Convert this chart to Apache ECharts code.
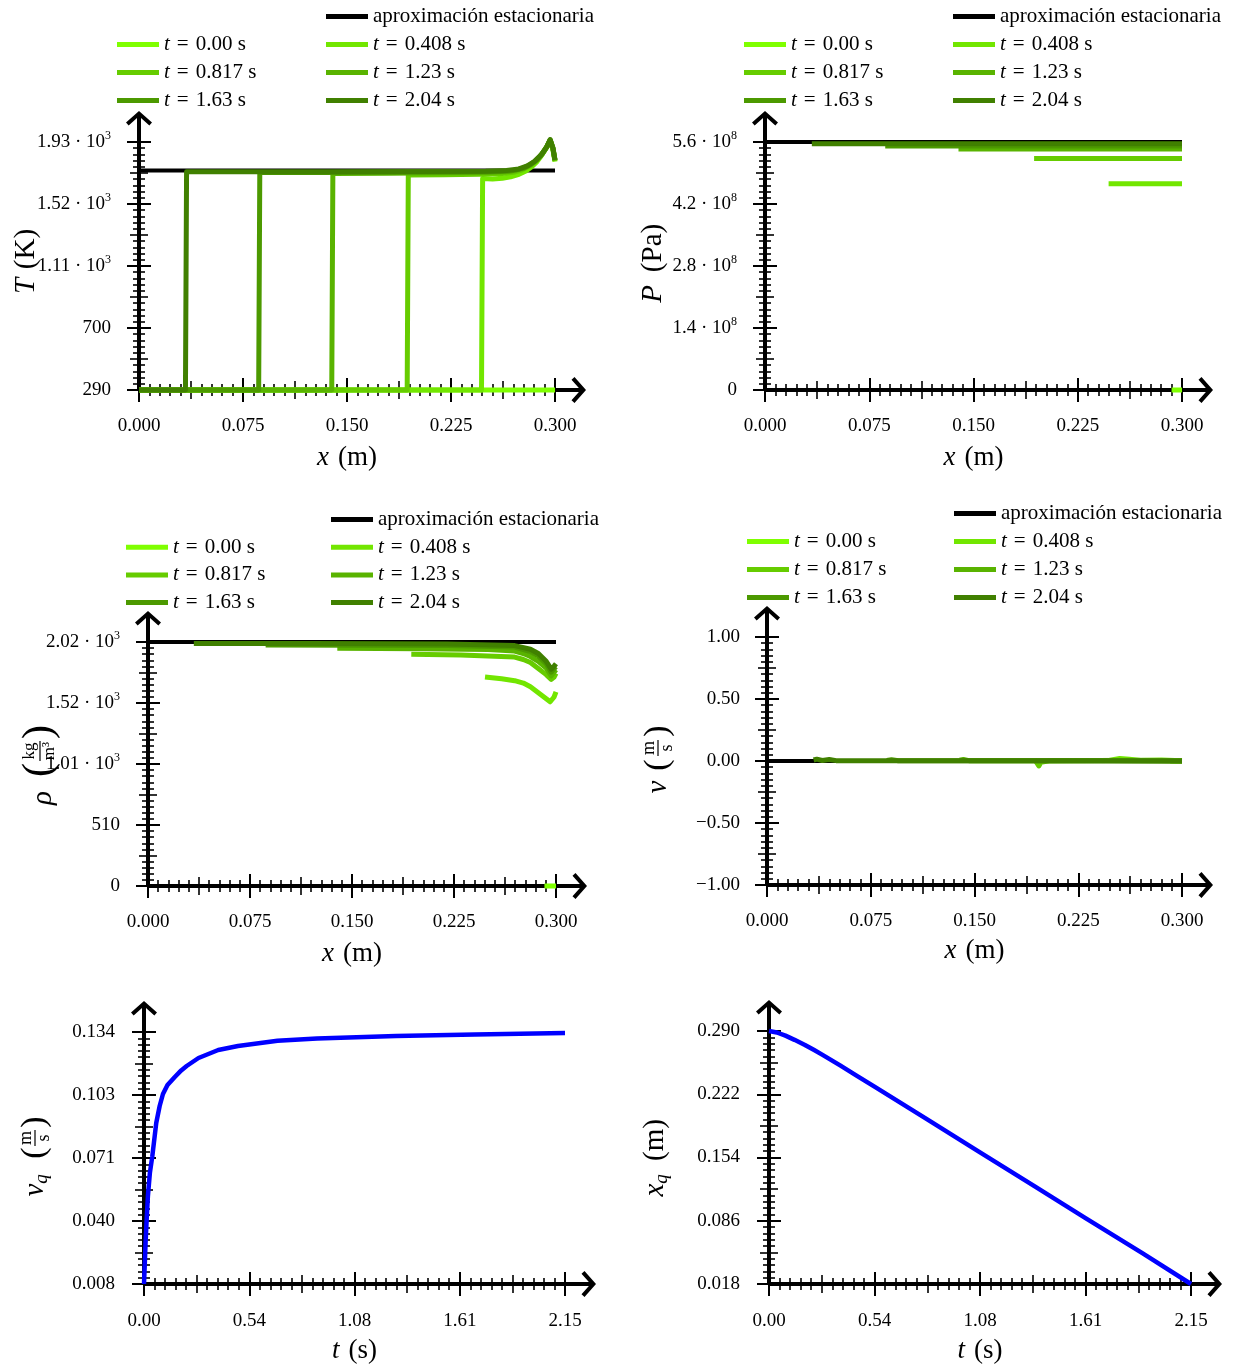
<!DOCTYPE html>
<html>
<head>
<meta charset="utf-8">
<script src="https://cdn.jsdelivr.net/npm/echarts@6/dist/echarts.min.js"></script>
<style>
  html, body { margin: 0; padding: 0; background: #fff; }
  #chart { width: 1234px; height: 1368px; }
</style>
</head>
<body>
<div id="chart"></div>
<script>
// ---------- tick values and their printed labels ----------
const X_TICKS = [0, 0.075, 0.15, 0.225, 0.3];
const X_LABELS = ['0.000', '0.075', '0.150', '0.225', '0.300'];
const T_TICKS = [290, 700, 1110, 1520, 1930];
const T_LABELS = ['290', '700', '1.11 · 10{s|3}', '1.52 · 10{s|3}', '1.93 · 10{s|3}'];
const P_TICKS = [0, 1.4e8, 2.8e8, 4.2e8, 5.6e8];
const P_LABELS = ['0', '1.4 · 10{s|8}', '2.8 · 10{s|8}', '4.2 · 10{s|8}', '5.6 · 10{s|8}'];
const RHO_TICKS = [0, 505, 1010, 1515, 2020];
const RHO_LABELS = ['0', '510', '1.01 · 10{s|3}', '1.52 · 10{s|3}', '2.02 · 10{s|3}'];
const V_TICKS = [-1, -0.5, 0, 0.5, 1];
const V_LABELS = ['\u22121.00', '\u22120.50', '0.00', '0.50', '1.00'];
const TIME_TICKS = [0, 0.5375, 1.075, 1.6125, 2.15];
const TIME_LABELS = ['0.00', '0.54', '1.08', '1.61', '2.15'];
const VQ_TICKS = [0.008, 0.0395, 0.071, 0.1025, 0.134];
const VQ_LABELS = ['0.008', '0.040', '0.071', '0.103', '0.134'];
const XQ_TICKS = [0.018, 0.086, 0.154, 0.222, 0.290];
const XQ_LABELS = ['0.018', '0.086', '0.154', '0.222', '0.290'];

// ---------- series names and colours ----------
const STAT_NAME = 'aproximación estacionaria';
const TIME_NAMES = ['t = 0.00 s', 't = 0.408 s', 't = 0.817 s', 't = 1.23 s', 't = 1.63 s', 't = 2.04 s'];
const GREENS = ['#7fff00', '#72e600', '#66cc00', '#59b300', '#4c9900', '#408000'];

// ---------- temperature profiles T(x) [m, K] ----------
const T_STAT = [[0, 1742], [0.3, 1742]];
const T_000 = [[0, 290], [0.3, 290]];
const T_0408 = [[0, 290], [0.2470, 290], [0.2478, 1688], [0.255, 1686], [0.262, 1690], [0.268, 1700], [0.274, 1716], [0.279, 1738], [0.283, 1765], [0.287, 1800], [0.290, 1838], [0.293, 1882], [0.2955, 1920], [0.2966, 1938], [0.2985, 1880], [0.3, 1800]];
const T_0817 = [[0, 290], [0.1934, 290], [0.1942, 1712], [0.22, 1713], [0.245, 1716], [0.262, 1722], [0.27, 1730], [0.276, 1745], [0.281, 1768], [0.285, 1795], [0.289, 1832], [0.292, 1870], [0.2945, 1905], [0.2965, 1940], [0.2985, 1885], [0.3, 1805]];
const T_123 = [[0, 290], [0.1390, 290], [0.1398, 1722], [0.18, 1724], [0.22, 1726], [0.25, 1728], [0.264, 1733], [0.272, 1742], [0.278, 1758], [0.283, 1782], [0.287, 1812], [0.291, 1853], [0.294, 1895], [0.2965, 1942], [0.2985, 1888], [0.3, 1808]];
const T_163 = [[0, 290], [0.0863, 290], [0.0871, 1728], [0.13, 1729], [0.18, 1730], [0.23, 1732], [0.26, 1735], [0.27, 1742], [0.277, 1757], [0.282, 1779], [0.287, 1813], [0.291, 1854], [0.294, 1897], [0.2965, 1944], [0.2985, 1890], [0.3, 1810]];
const T_204 = [[0, 290], [0.0335, 290], [0.0343, 1733], [0.08, 1733], [0.14, 1734], [0.2, 1735], [0.25, 1737], [0.265, 1741], [0.274, 1752], [0.28, 1772], [0.285, 1800], [0.29, 1845], [0.294, 1898], [0.2965, 1946], [0.2985, 1892], [0.3, 1812]];

// ---------- pressure profiles P(x) [m, Pa] ----------
const P_STAT = [[0, 5.6e8], [0.3, 5.6e8]];
const P_000 = [[0.2925, 0], [0.3, 0]];
const P_0408 = [[0.2472, 4.66e8], [0.3, 4.66e8]];
const P_0817 = [[0.1936, 5.23e8], [0.3, 5.23e8]];
const P_123 = [[0.1392, 5.44e8], [0.3, 5.44e8]];
const P_163 = [[0.0865, 5.51e8], [0.3, 5.51e8]];
const P_204 = [[0.0337, 5.56e8], [0.3, 5.56e8]];

// ---------- density profiles rho(x) [m, kg/m3] ----------
const R_STAT = [[0, 2020], [0.3, 2020]];
const R_000 = [[0.2915, 0], [0.3, 0]];
const R_0408 = [[0.2478, 1731], [0.26, 1715], [0.2696, 1700], [0.276, 1680], [0.2812, 1649], [0.2870, 1600], [0.2928, 1550], [0.2957, 1525], [0.2986, 1565], [0.3, 1608]];
const R_0817 = [[0.1936, 1918], [0.23, 1912], [0.2696, 1895], [0.276, 1875], [0.2812, 1850], [0.2870, 1800], [0.2928, 1750], [0.2965, 1710], [0.2986, 1730], [0.3, 1760]];
const R_123 = [[0.1392, 1968], [0.2, 1965], [0.25, 1958], [0.2696, 1945], [0.276, 1925], [0.2812, 1900], [0.2870, 1860], [0.2928, 1805], [0.2965, 1740], [0.2986, 1770], [0.3, 1790]];
const R_163 = [[0.0865, 1995], [0.15, 1993], [0.22, 1990], [0.2696, 1978], [0.2812, 1940], [0.2870, 1905], [0.2928, 1840], [0.2965, 1770], [0.2986, 1800], [0.3, 1815]];
const R_204 = [[0.0337, 2008], [0.12, 2007], [0.22, 2004], [0.2696, 1990], [0.2812, 1960], [0.2870, 1925], [0.2928, 1860], [0.2965, 1795], [0.2986, 1820], [0.3, 1840]];

// ---------- velocity profiles v(x) [m, m/s] ----------
const V_STAT = [[0, 0], [0.3, 0]];
const V_000 = [[0.2915, 0], [0.3, 0]];
const V_0408 = [[0.2472, 0.005], [0.25, 0.01], [0.255, 0.02], [0.262, 0.015], [0.27, 0.005], [0.285, 0.008], [0.3, 0.003]];
const V_0817 = [[0.1936, 0.01], [0.195, 0.025], [0.1965, -0.04], [0.198, -0.01], [0.205, 0.003], [0.24, 0.004], [0.27, 0.006], [0.3, 0.002]];
const V_123 = [[0.1392, 0.006], [0.142, 0.012], [0.146, 0.003], [0.2, 0.002], [0.25, 0.004], [0.3, 0.002]];
const V_163 = [[0.0865, 0.005], [0.09, 0.01], [0.095, 0.002], [0.15, 0.003], [0.22, 0.002], [0.3, 0.001]];
const V_204 = [[0.0337, 0.008], [0.036, 0.015], [0.04, 0.004], [0.045, 0.012], [0.05, 0.003], [0.1, 0.002], [0.2, 0.002], [0.3, 0.001]];

// ---------- front speed v_q(t) [s, m/s] and front position x_q(t) [s, m] ----------
const VQ_T = [0, 0.004, 0.008, 0.014, 0.020, 0.030, 0.0424, 0.0625, 0.080, 0.0968, 0.120, 0.1573, 0.190, 0.2178, 0.2783, 0.3792, 0.48, 0.6817, 0.8834, 1.2867, 1.69, 2.15];
const VQ_V = [0.008, 0.018, 0.0286, 0.041, 0.052, 0.0635, 0.0719, 0.0885, 0.097, 0.103, 0.1075, 0.1115, 0.1148, 0.117, 0.121, 0.125, 0.127, 0.1296, 0.1308, 0.132, 0.1328, 0.1335];
const XQ_T = [0, 0.04, 0.0836, 0.13, 0.1831, 0.23, 0.2727, 0.3623, 0.45, 0.5415, 0.80, 1.075, 1.35, 1.6125, 1.90, 2.15];
const XQ_X = [0.290, 0.2884, 0.2850, 0.2805, 0.2750, 0.2695, 0.2643, 0.2530, 0.2414, 0.2296, 0.1957, 0.1596, 0.1234, 0.0888, 0.0515, 0.018];

// ---------- drawing helpers ----------
const FONT = '"Liberation Serif", "DejaVu Serif", serif';
const ARROW = 'path://M13,0 L26,11.5 L23.35,14.5 L15,7.11 L15,62 L11,62 L11,7.11 L2.65,14.5 L0,11.5 Z';
const SP = '\u2004';

function labelOf(v, ticks, labels) {
  let best = 0;
  for (let i = 1; i < ticks.length; i++) {
    if (Math.abs(ticks[i] - v) < Math.abs(ticks[best] - v)) best = i;
  }
  return labels[best];
}

function subTicks(ticks) {
  const minor = [], mid = [];
  for (let i = 0; i < ticks.length - 1; i++) {
    const a = ticks[i], b = ticks[i + 1];
    for (let k = 1; k < 10; k++) {
      const v = +(a + (b - a) * k / 10).toPrecision(12);
      (k === 5 ? mid : minor).push(v);
    }
  }
  return { minor, mid };
}

// one labelled axis with an arrow, plus three tick-only axes whose ticks cross the line
function buildAxes(dim, gi, ticks, labels, margin, name, nameGap) {
  const lo = ticks[0], hi = ticks[ticks.length - 1];
  const sub = subTicks(ticks);
  const base = {
    gridIndex: gi, type: 'value', min: lo, max: hi,
    position: dim === 'x' ? 'bottom' : 'left',
    splitLine: { show: false },
    axisLine: { show: false, onZero: false },
    axisLabel: { show: false },
    axisTick: { show: false },
    silent: true, z: 0
  };
  const main = Object.assign({}, base, {
    z: 1,
    axisLine: {
      show: true, onZero: false,
      lineStyle: { color: '#000', width: 4, cap: 'butt' },
      symbol: ['none', ARROW], symbolSize: [26, 62]
    },
    axisLabel: {
      show: true, customValues: ticks, margin: margin,
      color: '#000', fontFamily: FONT, fontSize: 19, lineHeight: 22,
      formatter: v => labelOf(v, ticks, labels),
      rich: { s: { fontFamily: FONT, fontSize: 12, color: '#000', padding: [0, 0, 13, 0] } }
    }
  });
  if (name) {
    Object.assign(main, {
      name: name, nameLocation: 'middle', nameGap: nameGap,
      nameTextStyle: {
        color: '#000', fontFamily: FONT, fontSize: 27, lineHeight: 26,
        rich: { i: { fontFamily: FONT, fontStyle: 'italic', fontSize: 27, lineHeight: 26, color: '#000' } }
      }
    });
  }
  const tk = (half, w, vals) => Object.assign({}, base, {
    offset: half,
    axisTick: { show: true, inside: true, length: 2 * half, customValues: vals, lineStyle: { color: '#000', width: w } }
  });
  return [main, tk(12, 2, ticks), tk(9, 1.6, sub.mid), tk(6, 1.6, sub.minor)];
}

function lineSeries(name, data, color, width, gi) {
  return {
    type: 'line', name: name, data: data,
    xAxisIndex: gi * 4, yAxisIndex: gi * 4,
    showSymbol: false, symbol: 'none', clip: false, silent: true,
    color: color, itemStyle: { color: color },
    lineStyle: { color: color, width: width, cap: 'butt', join: 'round' },
    z: 3
  };
}

function profileSeries(gi, stat, curves) {
  const out = [lineSeries(STAT_NAME, stat, '#000', 4, gi)];
  curves.forEach((d, i) => out.push(lineSeries(TIME_NAMES[i], d, GREENS[i], 5, gi)));
  return out;
}

function legendsFor(col1, col2, row0, gap) {
  const common = {
    orient: 'vertical', icon: 'rect', itemWidth: 42, itemHeight: 5, itemGap: gap - 21,
    padding: 0, selectedMode: false,
    formatter: n => (n.indexOf('t =') === 0 ? '{i|t}' + SP + '=' + SP + n.slice(4) : n),
    textStyle: {
      color: '#000', fontFamily: FONT, fontSize: 21, lineHeight: 20,
      rich: { i: { fontFamily: FONT, fontStyle: 'italic', fontSize: 21, lineHeight: 20, color: '#000' } }
    }
  };
  return [
    Object.assign({}, common, { left: col2, top: row0 - 9, data: [STAT_NAME, TIME_NAMES[1], TIME_NAMES[3], TIME_NAMES[5]] }),
    Object.assign({}, common, { left: col1, top: row0 + gap - 9, data: [TIME_NAMES[0], TIME_NAMES[2], TIME_NAMES[4]] })
  ];
}

// rotated y-axis title made of text pieces laid out along the reading direction
function yTitle(cx, cy, parts) {
  return {
    type: 'group', x: cx, y: cy, rotation: Math.PI / 2, silent: true,
    children: parts.map(p => p.bar
      ? { type: 'line', shape: { x1: p.x1, y1: p.y, x2: p.x2, y2: p.y }, style: { stroke: '#000', lineWidth: 1.2 } }
      : { type: 'text', x: p.x, y: p.y, style: {
          text: p.t, fill: '#000', align: 'center', verticalAlign: 'middle',
          font: (p.it ? 'italic ' : '') + p.s + 'px ' + FONT } })
  };
}

// ---------- panels ----------
const grids = [
  { left: 139, top: 142, width: 416, height: 248 },
  { left: 765, top: 142, width: 417, height: 248 },
  { left: 148, top: 642, width: 408, height: 244 },
  { left: 767, top: 637, width: 415, height: 248 },
  { left: 144, top: 1032, width: 421, height: 252 },
  { left: 769, top: 1031, width: 422, height: 253 }
].map(g => Object.assign({ outerBoundsMode: 'none', containLabel: false }, g));

const X_NAME = '{i|x}' + SP + '(m)';
const TIME_NAME = '{i|t}' + SP + '(s)';
const xAxes = [].concat(
  buildAxes('x', 0, X_TICKS, X_LABELS, 25, X_NAME, 55),
  buildAxes('x', 1, X_TICKS, X_LABELS, 25, X_NAME, 55),
  buildAxes('x', 2, X_TICKS, X_LABELS, 25, X_NAME, 55),
  buildAxes('x', 3, X_TICKS, X_LABELS, 25, X_NAME, 53),
  buildAxes('x', 4, TIME_TICKS, TIME_LABELS, 26, TIME_NAME, 54),
  buildAxes('x', 5, TIME_TICKS, TIME_LABELS, 26, TIME_NAME, 54)
);
const yAxes = [].concat(
  buildAxes('y', 0, T_TICKS, T_LABELS, 28),
  buildAxes('y', 1, P_TICKS, P_LABELS, 28),
  buildAxes('y', 2, RHO_TICKS, RHO_LABELS, 28),
  buildAxes('y', 3, V_TICKS, V_LABELS, 27),
  buildAxes('y', 4, VQ_TICKS, VQ_LABELS, 29),
  buildAxes('y', 5, XQ_TICKS, XQ_LABELS, 29)
);

const series = [].concat(
  profileSeries(0, T_STAT, [T_000, T_0408, T_0817, T_123, T_163, T_204]),
  profileSeries(1, P_STAT, [P_000, P_0408, P_0817, P_123, P_163, P_204]),
  profileSeries(2, R_STAT, [R_000, R_0408, R_0817, R_123, R_163, R_204]),
  profileSeries(3, V_STAT, [V_000, V_0408, V_0817, V_123, V_163, V_204]),
  [lineSeries('v_q', VQ_T.map((t, i) => [t, VQ_V[i]]), '#0000ff', 4.5, 4)],
  [lineSeries('x_q', XQ_T.map((t, i) => [t, XQ_X[i]]), '#0000ff', 4.5, 5)]
);

const legends = [].concat(
  legendsFor(117, 326, 15, 28),
  legendsFor(744, 953, 15, 28),
  legendsFor(126, 331, 518, 27.7),
  legendsFor(747, 954, 512, 28)
);

const titles = [
  yTitle(26, 264, [{ t: 'T', it: true, s: 29, x: -22, y: 0 }, { t: '(K)', s: 29, x: 15, y: 0 }]),
  yTitle(653, 268, [{ t: 'P', it: true, s: 29, x: -26, y: 0 }, { t: '(Pa)', s: 29, x: 20, y: 0 }]),
  yTitle(40, 760, [
    { t: 'ρ', it: true, s: 29, x: -38, y: 3 },
    { t: '(', s: 42, x: -10, y: 0 },
    { t: 'kg', s: 17, x: 9, y: -10 },
    { bar: true, x1: -1, x2: 19, y: 0 },
    { t: 'm³', s: 17, x: 9, y: 10 },
    { t: ')', s: 42, x: 28, y: 0 }
  ]),
  yTitle(658, 752, [
    { t: 'v', it: true, s: 29, x: -35, y: 0 },
    { t: '(', s: 34, x: -13, y: 0 },
    { t: 'm', s: 18, x: 4, y: -9 },
    { bar: true, x1: -4, x2: 12, y: 0 },
    { t: 's', s: 18, x: 4, y: 9 },
    { t: ')', s: 34, x: 21, y: 0 }
  ]),
  yTitle(35, 1150, [
    { t: 'v', it: true, s: 29, x: -40, y: 0 },
    { t: 'q', it: true, s: 19, x: -29, y: 7 },
    { t: '(', s: 34, x: -3, y: 0 },
    { t: 'm', s: 18, x: 12, y: -9 },
    { bar: true, x1: 4, x2: 20, y: 0 },
    { t: 's', s: 18, x: 12, y: 9 },
    { t: ')', s: 34, x: 28, y: 0 }
  ]),
  yTitle(655, 1160, [
    { t: 'x', it: true, s: 29, x: -30, y: 0 },
    { t: 'q', it: true, s: 19, x: -19, y: 7 },
    { t: '(m)', s: 29, x: 20, y: 0 }
  ])
];

const chart = echarts.init(document.getElementById('chart'), null, { renderer: 'canvas' });
chart.setOption({
  backgroundColor: '#fff',
  animation: false,
  grid: grids,
  xAxis: xAxes,
  yAxis: yAxes,
  legend: legends,
  series: series,
  graphic: titles
});
</script>
</body>
</html>
